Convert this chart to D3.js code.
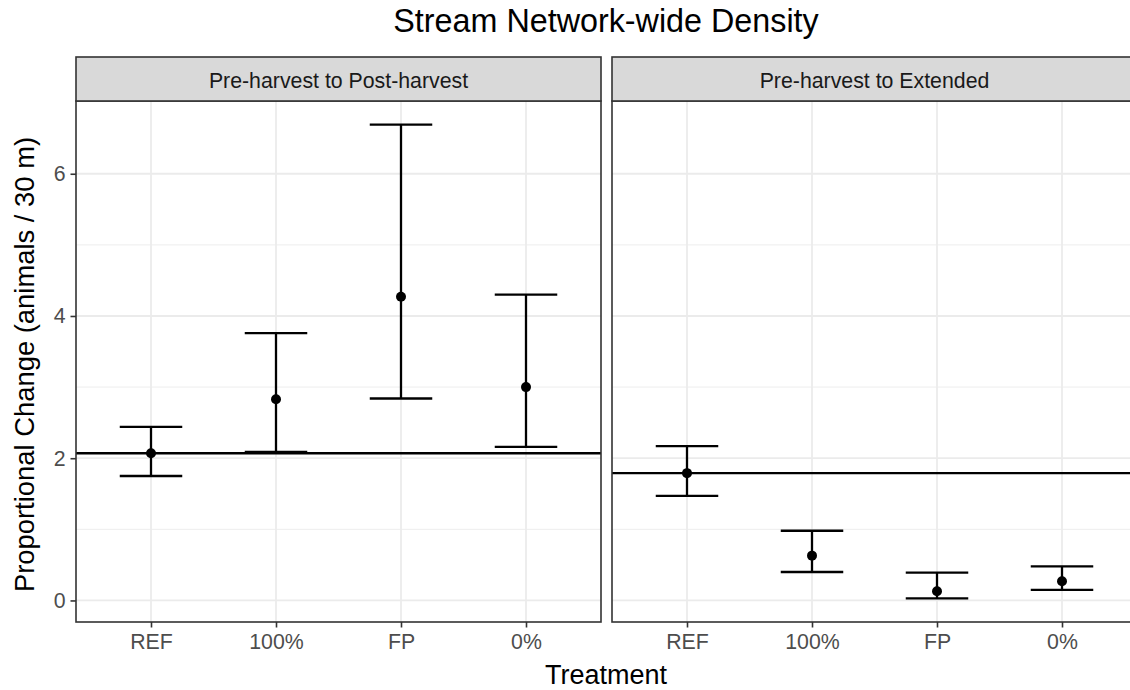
<!DOCTYPE html>
<html>
<head>
<meta charset="utf-8">
<script src="https://cdn.jsdelivr.net/npm/d3@7"></script>
<style>
  html, body { margin: 0; padding: 0; background: #fff; }
  svg { display: block; font-family: "Liberation Sans", Arial, sans-serif; }
</style>
</head>
<body>
<svg id="chart" width="1130" height="690"></svg>
<script>
// ---- data ----
const categories = ["REF", "100%", "FP", "0%"];
const facets = ["Pre-harvest to Post-harvest", "Pre-harvest to Extended"];
const postMean  = [2.07, 2.83, 4.27, 3.00];
const postLower = [1.75, 2.09, 2.84, 2.16];
const postUpper = [2.44, 3.76, 6.69, 4.30];
const extMean   = [1.79, 0.63, 0.13, 0.27];
const extLower  = [1.47, 0.40, 0.03, 0.15];
const extUpper  = [2.17, 0.98, 0.39, 0.48];
const refLines  = [2.07, 1.79];
const yTicks = [0, 2, 4, 6];
const yMinorTicks = [1, 3, 5];
const titleText = "Stream Network-wide Density";
const xTitle = "Treatment";
const yTitle = "Proportional Change (animals / 30 m)";

const panelData = [
  { mean: postMean, lower: postLower, upper: postUpper, ref: refLines[0] },
  { mean: extMean, lower: extLower, upper: extUpper, ref: refLines[1] }
];

// ---- layout ----
const svg = d3.select("#chart");
const panelTop = 101, panelBottom = 622;
const stripTop = 57;
const panelW = 525;
const panelX = [76, 612];

const allVals = postLower.concat(postUpper, extLower, extUpper);
const dMin = d3.min(allVals), dMax = d3.max(allVals);
const pad = (dMax - dMin) * 0.05;
const y = d3.scaleLinear().domain([dMin - pad, dMax + pad]).range([panelBottom, panelTop]);

const grey20 = "#333333", grey30 = "#4d4d4d", grey92 = "#ebebeb", grey85 = "#d9d9d9";
const lw = 2.3;

// title
svg.append("text").attr("x", 606).attr("y", 32).attr("text-anchor", "middle")
  .attr("font-size", 32.3).attr("fill", "#000").text(titleText);

facets.forEach((f, i) => {
  const x0 = panelX[i];
  const x = d3.scalePoint().domain(categories).range([x0, x0 + panelW]).padding(0.6);
  const step = x.step();
  const g = svg.append("g");

  g.append("rect").attr("x", x0).attr("y", panelTop).attr("width", panelW)
    .attr("height", panelBottom - panelTop).attr("fill", "#fff");

  g.selectAll(".ymin").data(yMinorTicks).join("line")
    .attr("x1", x0).attr("x2", x0 + panelW)
    .attr("y1", d => y(d)).attr("y2", d => y(d))
    .attr("stroke", grey92).attr("stroke-width", 0.9);
  g.selectAll(".ymaj").data(yTicks).join("line")
    .attr("x1", x0).attr("x2", x0 + panelW)
    .attr("y1", d => y(d)).attr("y2", d => y(d))
    .attr("stroke", grey92).attr("stroke-width", 1.8);
  g.selectAll(".xmaj").data(categories).join("line")
    .attr("x1", d => x(d)).attr("x2", d => x(d))
    .attr("y1", panelTop).attr("y2", panelBottom)
    .attr("stroke", grey92).attr("stroke-width", 1.8);

  const pd = panelData[i];
  g.append("line").attr("x1", x0).attr("x2", x0 + panelW)
    .attr("y1", y(pd.ref)).attr("y2", y(pd.ref))
    .attr("stroke", "#000").attr("stroke-width", lw);

  const rows = categories.map((c, k) => ({ c, m: pd.mean[k], lo: pd.lower[k], hi: pd.upper[k] }));
  const hw = step * 0.25;
  const eb = g.selectAll(".eb").data(rows).join("g");
  eb.append("line").attr("x1", d => x(d.c)).attr("x2", d => x(d.c))
    .attr("y1", d => y(d.lo)).attr("y2", d => y(d.hi))
    .attr("stroke", "#000").attr("stroke-width", lw);
  eb.append("line").attr("x1", d => x(d.c) - hw).attr("x2", d => x(d.c) + hw)
    .attr("y1", d => y(d.lo)).attr("y2", d => y(d.lo))
    .attr("stroke", "#000").attr("stroke-width", lw);
  eb.append("line").attr("x1", d => x(d.c) - hw).attr("x2", d => x(d.c) + hw)
    .attr("y1", d => y(d.hi)).attr("y2", d => y(d.hi))
    .attr("stroke", "#000").attr("stroke-width", lw);
  eb.append("circle").attr("cx", d => x(d.c)).attr("cy", d => y(d.m))
    .attr("r", 5).attr("fill", "#000");

  g.append("rect").attr("x", x0).attr("y", panelTop).attr("width", panelW)
    .attr("height", panelBottom - panelTop).attr("fill", "none")
    .attr("stroke", grey20).attr("stroke-width", 1.6);

  g.append("rect").attr("x", x0).attr("y", stripTop).attr("width", panelW)
    .attr("height", panelTop - stripTop).attr("fill", grey85)
    .attr("stroke", grey20).attr("stroke-width", 1.6);
  g.append("text").attr("x", x0 + panelW / 2).attr("y", 87.5)
    .attr("text-anchor", "middle").attr("font-size", 21.3).attr("fill", "#1a1a1a").text(f);

  const xa = g.append("g").attr("transform", `translate(0,${panelBottom})`)
    .call(d3.axisBottom(x).tickSize(5.5).tickPadding(6));
  xa.select(".domain").remove();
  xa.selectAll(".tick line").attr("stroke", grey20).attr("stroke-width", 1.6);
  xa.selectAll(".tick text").attr("font-size", 21.3).attr("fill", grey30)
    .attr("font-family", "Liberation Sans, Arial, sans-serif");

  if (i === 0) {
    const ya = g.append("g").attr("transform", `translate(${x0},0)`)
      .call(d3.axisLeft(y).tickValues(yTicks).tickFormat(d3.format("d")).tickSize(5.5).tickPadding(5));
    ya.select(".domain").remove();
    ya.selectAll(".tick line").attr("stroke", grey20).attr("stroke-width", 1.6);
    ya.selectAll(".tick text").attr("font-size", 21.3).attr("fill", grey30)
      .attr("font-family", "Liberation Sans, Arial, sans-serif");
  }
});

svg.append("text").attr("x", 606).attr("y", 684).attr("text-anchor", "middle")
  .attr("font-size", 27).attr("fill", "#000").text(xTitle);
svg.append("text").attr("transform", `translate(34,${(panelTop + panelBottom) / 2 + 3}) rotate(-90)`)
  .attr("text-anchor", "middle").attr("font-size", 27.4).attr("fill", "#000").text(yTitle);
</script>
</body>
</html>
